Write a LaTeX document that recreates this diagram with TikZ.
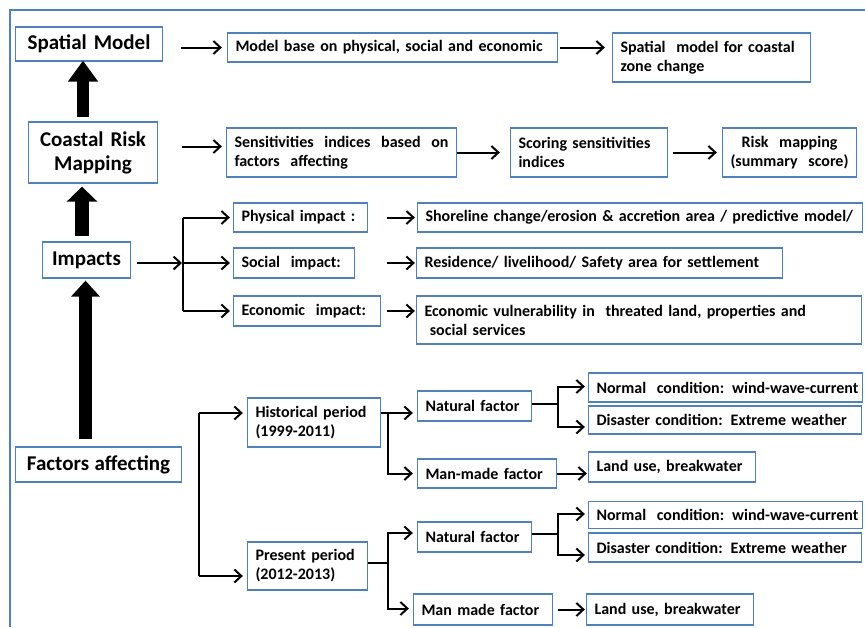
\documentclass[tikz,border=0pt]{standalone}
\usepackage{fontspec}
\setmainfont{Carlito}
\usetikzlibrary{arrows.meta}
\definecolor{boxblue}{RGB}{79,129,189}
\begin{document}
\begin{tikzpicture}[x=1pt,y=-1pt,
  box/.style={draw=boxblue, line width=1.3pt, fill=white, inner xsep=8pt, inner ysep=2pt,
    align=left, font=\bfseries\fontsize{16}{19}\selectfont},
  bigbox/.style={box, align=center, font=\bfseries\fontsize{21}{24}\selectfont},
  arr/.style={line width=2pt, -{Straight Barb[length=7pt,width=13pt]}},
  link/.style={line width=2pt},
  bigarr/.style n args={3}{line width=#1, -{Triangle[width=#2,length=#3]}}]

\useasboundingbox (0,0) rectangle (865,627);
\fill[white] (0,0) rectangle (865,627);

% outer frame
\draw[boxblue, line width=1.5pt] (865,10) -- (10,10) -- (10,627);

% ---- left column
\node[bigbox, text width=131pt, minimum height=34pt] (sm) at (89,44) {Spatial Model};
\node[bigbox, text width=113pt, minimum height=61pt] (cr) at (93,152.5) {Coastal Risk\\Mapping};
\node[bigbox, text width=72pt, minimum height=36pt] (im) at (86.5,260) {Impacts};
\node[bigbox, text width=150pt, minimum height=35pt] (fa) at (98.5,464.5) {\mbox{Factors\hspace{-1.5pt} affecting}};

% ---- spatial model row
\node[box, text width=314pt, minimum height=29pt] (mb) at (392.5,47.5) {\mbox{Model base on physical, social and economic}};
\node[box, text width=182pt, minimum height=49pt] (sz) at (711.5,57.5) {Spatial~ model for coastal\\zone change};

% ---- coastal risk mapping row
\node[box, text width=214pt, minimum height=49pt] (si) at (341.5,152.5) {\mbox{Sensitivities~ indices~ based~ on}\\factors~ affecting};
\node[box, text width=141pt, minimum height=49pt] (ss) at (589,152.5) {Scoring sensitivities\\indices};
\node[box, align=center, text width=118pt, minimum height=49pt] (rm) at (789.5,152.5) {Risk~ mapping\\(summary~ score)};

% ---- impacts
\node[box, text width=118pt, minimum height=29pt] (pi) at (300.5,217.5) {\mbox{Physical impact :}};
\node[box, text width=105pt, minimum height=30pt] (so) at (294,263) {Social~ impact:};
\node[box, text width=131pt, minimum height=30pt] (ei) at (307,311) {\mbox{Economic~ impact:}};
\node[box, text width=429pt, minimum height=29pt] (sh) at (640,217.5) {\mbox{Shoreline change/erosion \& accretion area / predictive model/}};
\node[box, text width=350pt, minimum height=30pt] (re) at (599.5,263) {Residence/ livelihood/ Safety area for settlement};
\node[box, text width=429pt, minimum height=48pt] (ev) at (639,320) {\mbox{Economic vulnerability in~ threated land, properties and}\\~social services};

% ---- factors affecting
\node[box, text width=117pt, minimum height=49pt] (hp) at (314,422.5) {\mbox{Historical period}\\(1999-2011)};
\node[box, text width=104pt, minimum height=48pt] (pp) at (307.5,566) {\mbox{Present period}\\(2012-2013)};
\node[box, text width=98pt, minimum height=30pt] (nf1) at (474.5,406) {\mbox{Natural factor}};
\node[box, text width=123pt, minimum height=29pt] (mm1) at (487,473.5) {\mbox{Man-made factor}};
\node[box, text width=258pt, minimum height=29pt] (nc1) at (725.5,387.5) {\mbox{Normal~ condition: wind-wave-current}};
\node[box, text width=257pt, minimum height=28pt] (dc1) at (725,420) {\mbox{Disaster condition: Extreme weather}};
\node[box, text width=151pt, minimum height=30pt] (lu1) at (672,467) {\mbox{Land use, breakwater}};
\node[box, text width=98pt, minimum height=30pt] (nf2) at (474.5,537) {\mbox{Natural factor}};
\node[box, text width=258pt, minimum height=27pt] (nc2) at (725.5,515) {\mbox{Normal~ condition: wind-wave-current}};
\node[box, text width=257pt, minimum height=29pt] (dc2) at (725,547.5) {\mbox{Disaster condition: Extreme weather}};
\node[box, text width=123pt, minimum height=31pt] (mm2) at (483,609.5) {\mbox{Man made factor}};
\node[box, text width=151pt, minimum height=31pt] (lu2) at (670,609.5) {\mbox{Land use, breakwater}};

% ---- thick upward arrows
\draw[bigarr={12pt}{29pt}{21pt}, shorten >=-1pt] ([xshift=-10pt,yshift=4pt]cr.north) -- ([xshift=-6pt]sm.south);
\draw[bigarr={14pt}{30pt}{15pt}, shorten >=3pt] ([xshift=-4.5pt,yshift=5pt]im.north) -- ([xshift=-11pt]cr.south);
\draw[bigarr={13pt}{28pt}{16pt}, shorten >=2pt] ([xshift=-13pt,yshift=7pt]fa.north) -- ([xshift=-1pt]im.south);

% ---- top rows
\draw[arr, shorten <=18pt, shorten >=5pt] (sm.east |- mb.west) -- (mb.west);
\draw[arr, shorten <=2pt, shorten >=7pt] (mb.east) -- (mb.east -| sz.west);
\draw[arr, shorten <=24pt, shorten >=4pt] ([yshift=6pt]cr.east) -- ([yshift=6pt]si.west);
\draw[arr, shorten >=10pt] (si.east) -- (ss.west);
\draw[arr, shorten <=5pt, shorten >=5pt] (ss.east) -- (rm.west);

% ---- impacts branching
\coordinate (ib) at (183,263);
\draw[link] (ib |- pi.west) -- (ib |- ei.west);
\draw[arr, shorten <=6pt, shorten >=1pt] (im.east |- ib) -- (ib);
\draw[arr, shorten >=3pt] (ib |- pi.west) -- (pi.west);
\draw[arr, shorten >=3pt] (ib |- so.west) -- (so.west);
\draw[arr, shorten >=3pt] (ib |- ei.west) -- (ei.west);
\draw[arr, shorten <=19pt, shorten >=2pt] (pi.east) -- (sh.west);
\draw[arr, shorten <=32pt, shorten >=1pt] (so.east) -- (re.west);
\draw[arr, shorten <=6pt, shorten >=1pt] (ei.east) -- (ei.east -| ev.west);

% ---- factors branching
\coordinate (ft) at (199,413);
\coordinate (fb) at (199,576);
\draw[link] (ft) -- (fb);
\draw[arr, shorten >=4pt] (ft) -- (ft -| hp.west);
\draw[arr, shorten >=4pt] (fb) -- (fb -| pp.west);

\coordinate (hb) at (388,413);
\draw[arr, shorten >=4pt] (hb -| hp.east) -- (hb -| nf1.west);
\draw[arr, shorten >=4pt] (hb) |- (mm1.west);

\coordinate (pb) at (388,563);
\draw[link] (pb -| pp.east) -- (pb);
\draw[arr, shorten >=4pt] (pb) |- ([yshift=4pt]nf2.west);
\draw[arr, shorten >=4pt] (pb) |- ([yshift=1pt]mm2.west);

\coordinate (nb1) at (558,404);
\draw[link] (nf1.east |- nb1) -- (nb1);
\draw[arr, shorten >=3pt] (nb1) |- ([yshift=1pt]nc1.west);
\draw[arr, shorten >=3pt] (nb1) |- ([yshift=-7pt]dc1.west);
\draw[arr, shorten >=1pt] (mm1.east) -- (mm1.east -| lu1.west);

\coordinate (nb2) at (558,534);
\draw[link] (nf2.east |- nb2) -- (nb2);
\draw[arr, shorten >=3pt] (nb2) |- ([yshift=1pt]nc2.west);
\draw[arr, shorten >=3pt] (nb2) |- ([yshift=-7.5pt]dc2.west);
\draw[arr, shorten <=5pt, shorten >=1pt] (mm2.east) -- (mm2.east -| lu2.west);
\end{tikzpicture}
\end{document}
